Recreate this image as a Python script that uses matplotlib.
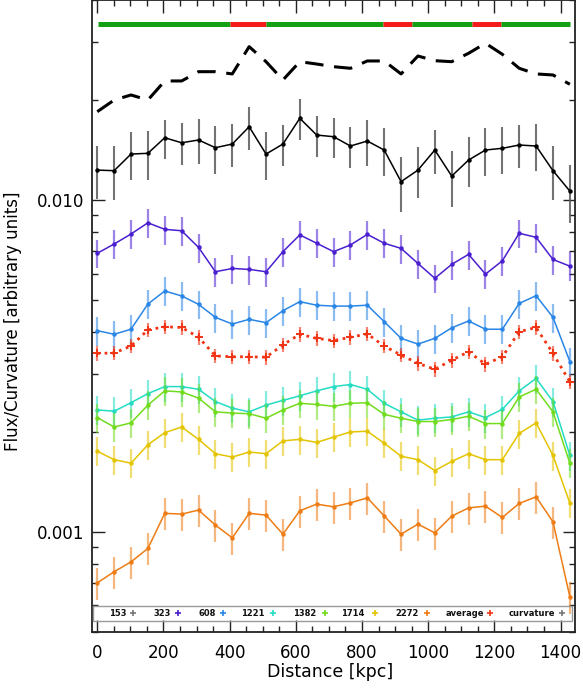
import numpy as np
import matplotlib
matplotlib.use('Agg')
import matplotlib.pyplot as plt
from matplotlib.ticker import MultipleLocator, LogLocator, FixedLocator, FixedFormatter, NullFormatter
from matplotlib.patches import Rectangle

# ── Data ──────────────────────────────────────────────────────────────
distance = [0, 51, 102, 153, 204, 255, 306, 357, 408, 459, 510, 561, 612, 663, 714,
            765, 816, 867, 918, 969, 1020, 1071, 1122, 1173, 1224, 1275, 1326, 1377, 1428]

curvature = [0.01846, 0.02002, 0.02073, 0.02002, 0.02285, 0.02285, 0.02437, 0.02437,
             0.02399, 0.02899, 0.02612, 0.02301, 0.02612, 0.02570, 0.02523, 0.02495,
             0.02625, 0.02625, 0.02399, 0.02717, 0.02630, 0.02612, 0.02769, 0.02968,
             0.02750, 0.02495, 0.02399, 0.02382, 0.02233]

flux_153 = [0.01231, 0.01226, 0.01376, 0.01383, 0.01541, 0.01488, 0.01517, 0.01438,
            0.01475, 0.01663, 0.01376, 0.01475, 0.01763, 0.01570, 0.01552, 0.01455,
            0.01506, 0.01415, 0.01136, 0.01231, 0.01415, 0.01181, 0.01320, 0.01415,
            0.01432, 0.01465, 0.01455, 0.01226, 0.01064]
err_153 = [0.00225, 0.00224, 0.00230, 0.00233, 0.00207, 0.00214, 0.00235, 0.00237,
           0.00218, 0.00248, 0.00224, 0.00212, 0.00249, 0.00226, 0.00214, 0.00209,
           0.00237, 0.00232, 0.00214, 0.00216, 0.00214, 0.00227, 0.00228, 0.00235,
           0.00233, 0.00218, 0.00235, 0.00228, 0.00210]

flux_323 = [0.00691, 0.00737, 0.00790, 0.00854, 0.00816, 0.00808, 0.00720, 0.00608,
            0.00622, 0.00618, 0.00608, 0.00699, 0.00785, 0.00741, 0.00699, 0.00732,
            0.00788, 0.00741, 0.00715, 0.00644, 0.00581, 0.00640, 0.00686, 0.00598,
            0.00656, 0.00794, 0.00772, 0.00662, 0.00632]

flux_608 = [0.00404, 0.00394, 0.00408, 0.00486, 0.00532, 0.00514, 0.00485, 0.00443,
            0.00423, 0.00437, 0.00427, 0.00464, 0.00494, 0.00482, 0.00479, 0.00479,
            0.00482, 0.00430, 0.00383, 0.00368, 0.00383, 0.00412, 0.00432, 0.00408,
            0.00408, 0.00488, 0.00515, 0.00443, 0.00326]

flux_avg = [0.00345, 0.00346, 0.00363, 0.00406, 0.00415, 0.00413, 0.00386, 0.00339,
            0.00337, 0.00337, 0.00336, 0.00366, 0.00394, 0.00383, 0.00377, 0.00386,
            0.00395, 0.00363, 0.00341, 0.00322, 0.00309, 0.00329, 0.00349, 0.00320,
            0.00337, 0.00401, 0.00413, 0.00345, 0.00283]

flux_1221 = [0.00233, 0.00231, 0.00245, 0.00261, 0.00274, 0.00274, 0.00269, 0.00247,
             0.00236, 0.00230, 0.00241, 0.00249, 0.00257, 0.00266, 0.00274, 0.00278,
             0.00269, 0.00244, 0.00230, 0.00217, 0.00220, 0.00222, 0.00230, 0.00221,
             0.00234, 0.00266, 0.00290, 0.00247, 0.00170]

flux_1382 = [0.00221, 0.00207, 0.00213, 0.00241, 0.00266, 0.00264, 0.00253, 0.00230,
             0.00228, 0.00227, 0.00220, 0.00233, 0.00244, 0.00242, 0.00239, 0.00244,
             0.00245, 0.00226, 0.00220, 0.00215, 0.00215, 0.00218, 0.00223, 0.00212,
             0.00212, 0.00255, 0.00269, 0.00230, 0.00161]

flux_1714 = [0.00175, 0.00165, 0.00161, 0.00183, 0.00199, 0.00207, 0.00190, 0.00172,
             0.00168, 0.00174, 0.00172, 0.00188, 0.00190, 0.00186, 0.00193, 0.00200,
             0.00201, 0.00185, 0.00169, 0.00165, 0.00153, 0.00163, 0.00172, 0.00165,
             0.00165, 0.00198, 0.00213, 0.00170, 0.00122]

flux_2272 = [0.000702, 0.000758, 0.000812, 0.000891, 0.001137, 0.001131, 0.001163, 0.001048,
             0.000959, 0.001137, 0.001123, 0.000984, 0.001157, 0.001212, 0.001190, 0.001223,
             0.001266, 0.001117, 0.000984, 0.001055, 0.000993, 0.001115, 0.001181, 0.001195,
             0.001105, 0.001218, 0.001275, 0.001072, 0.000637]

# fractional errors of the other series
frac_err_323 = 0.10
frac_err_608 = 0.10
frac_err_avg = 0.05
frac_err_1221 = 0.10
frac_err_1382 = 0.10
frac_err_1714 = 0.10
frac_err_2272 = 0.11

# region bar at the top: (start, end) in kpc and flag
bar_starts = [3, 401, 510, 862, 950, 1131, 1219]
bar_ends = [401, 510, 862, 950, 1131, 1219, 1428]
bar_flags = ['ok', 'bad', 'ok', 'bad', 'ok', 'bad', 'ok']
bar_level = 0.0339

legend_labels = ['153', '323', '608', '1221', '1382', '1714', '2272', 'average', 'curvature']

# ── Colours ───────────────────────────────────────────────────────────
c_153 = 'black'
c_323 = '#4a1fd0'
c_608 = '#2a86e6'
c_1221 = '#22dcc4'
c_1382 = '#72dc1c'
c_1714 = '#e4c400'
c_2272 = '#ee7c14'
c_avg = '#f03414'
bar_colors = {'ok': '#14a014', 'bad': '#f51c1c'}

x = np.array(distance)

fig = plt.figure(figsize=(5.83, 6.88), dpi=100)
ax = fig.add_axes([0.1583, 0.0818, 0.8288, 0.9178])
ax.set_yscale('log')

# top region bar
for s, e, f in zip(bar_starts, bar_ends, bar_flags):
    ax.plot([s, e], [bar_level, bar_level], color=bar_colors[f], lw=3.6,
            solid_capstyle='butt')

# curvature (dashed, no errors)
ax.plot(x, curvature, color='black', lw=2.2, dashes=(6, 3.5))

# 153 MHz with its own absolute errors
ax.errorbar(x, flux_153, yerr=err_153, fmt='none', ecolor='#5a5a5a', elinewidth=1.5, alpha=0.85)
ax.plot(x, flux_153, color=c_153, lw=1.1, marker='o', ms=2.2)

series = [
    (flux_323, frac_err_323, c_323),
    (flux_608, frac_err_608, c_608),
    (flux_1221, frac_err_1221, c_1221),
    (flux_1382, frac_err_1382, c_1382),
    (flux_1714, frac_err_1714, c_1714),
    (flux_2272, frac_err_2272, c_2272),
]
for vals, fe, col in series:
    v = np.array(vals)
    ax.errorbar(x, v, yerr=v * fe, fmt='none', ecolor=col, elinewidth=1.6, alpha=0.55)
    ax.plot(x, v, color=col, lw=1.1, marker='o', ms=2.2)

# average: dotted with + markers
va = np.array(flux_avg)
ax.errorbar(x, va, yerr=va * frac_err_avg, fmt='none', ecolor=c_avg, elinewidth=1.6, alpha=0.6)
ax.plot(x, va, color=c_avg, lw=2.0, ls=':', marker='+', ms=5.5, mew=1.4)

# ── Axes styling ──────────────────────────────────────────────────────
ax.set_xlim(-15, 1445)
ax.set_ylim(5e-4, 4e-2)
ax.xaxis.set_major_locator(MultipleLocator(200))
ax.xaxis.set_minor_locator(MultipleLocator(50))
ax.yaxis.set_major_locator(FixedLocator([0.001, 0.01]))
ax.yaxis.set_major_formatter(FixedFormatter(['0.001', '0.010']))
ax.yaxis.set_minor_locator(LogLocator(base=10, subs=np.arange(2, 10)))
ax.yaxis.set_minor_formatter(NullFormatter())
ax.tick_params(which='both', direction='in', top=True, right=True, color='#222222')
ax.tick_params(which='major', length=9, width=1.0, labelsize=12)
ax.tick_params(which='minor', length=4.5, width=1.0)
ax.tick_params(axis='x', pad=9)
ax.tick_params(axis='y', pad=6)
for sp in ax.spines.values():
    sp.set_linewidth(1.3)
    sp.set_color('#222222')

ax.set_xlabel('Distance [kpc]', fontsize=12.5)
ax.set_ylabel('Flux/Curvature [arbitrary units]', fontsize=12)
ax.xaxis.set_label_coords(0.492, -0.050)
ax.yaxis.set_label_coords(-0.145, 0.492)

# ── Legend strip along the bottom ─────────────────────────────────────
ax.add_patch(Rectangle((0.002, 0.0174), 0.990, 0.0233, transform=ax.transAxes,
                       fill=False, edgecolor='#999999', lw=1.0, zorder=5))
leg_colors = ['#777777', c_323, c_608, c_1221, c_1382, c_1714, c_2272, c_avg, '#777777']
text_x = [0.053, 0.144, 0.237, 0.333, 0.440, 0.540, 0.651, 0.771, 0.910]
mark_x = [0.084, 0.177, 0.270, 0.374, 0.482, 0.585, 0.693, 0.823, 0.972]
for lab, col, tx, mx in zip(legend_labels, leg_colors, text_x, mark_x):
    ax.text(tx, 0.029, lab, transform=ax.transAxes, fontsize=6, ha='center', va='center',
            fontweight='bold', color='#111111')
    ax.plot([mx], [0.029], transform=ax.transAxes, marker='+', ms=4.5, mew=1.2,
            color=col, clip_on=False)

fig.savefig('out.png', dpi=100)
